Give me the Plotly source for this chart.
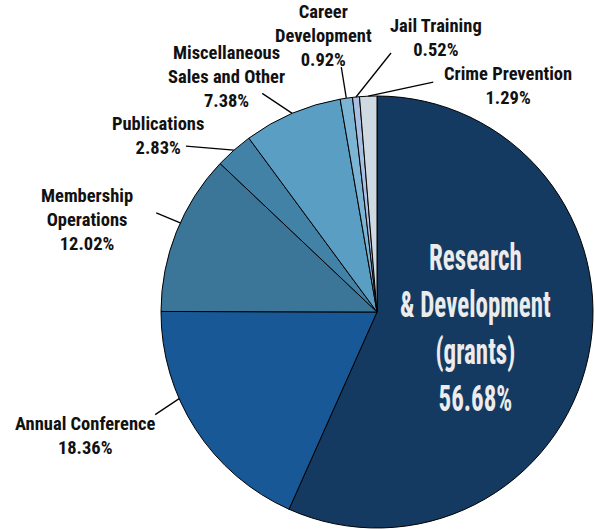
import math
import json
import plotly.graph_objects as go

# ---------------- data ----------------
categories = [
    "Research & Development (grants)",
    "Annual Conference",
    "Membership Operations",
    "Publications",
    "Miscellaneous Sales and Other",
    "Career Development",
    "Jail Training",
    "Crime Prevention",
]
values = [56.68, 18.36, 12.02, 2.83, 7.38, 0.92, 0.52, 1.29]
label_lines = [
    ["Research", "& Development", "(grants)"],
    ["Annual Conference"],
    ["Membership", "Operations"],
    ["Publications"],
    ["Miscellaneous", "Sales and Other"],
    ["Career", "Development"],
    ["Jail Training"],
    ["Crime Prevention"],
]
colors = ["#153a61", "#185896", "#3b7698", "#4282a7", "#5a9ec4",
          "#7cb4d3", "#aabfe2", "#cfd9e1"]

# ---------------- layout / style ----------------
W, H = 595, 529
CX, CY, R = 377, 312, 216
FONT = "Roboto Condensed, Liberation Sans Narrow, Arial Narrow, Roboto, Arial, sans-serif"

# label text placement: (x centre, block centre y, font size, colour)
label_style = [
    (475, 328.5, 25, "#ececec"),
    (85, 436, 18.5, "#111111"),
    (87, 220, 18.5, "#111111"),
    (158, 135.75, 18.5, "#111111"),
    (226, 77.5, 18.5, "#111111"),
    (323, 36, 18.5, "#111111"),
    (436, 38, 18.5, "#111111"),
    (508, 86, 18.5, "#111111"),
]
# leader lines: (anchor fraction within slice, tail offset dx, dy) ; None = no leader
leader_style = [None, (0.64, -24, 16), (0.56, -24, -10), (0.5, -48, -4),
                (0.5, -30, -20), (0.5, -5, -31), (0.5, 35, -44), (0.5, 65, -14)]


def px2paper(x, y):
    return x / W, 1 - y / H


fig = go.Figure()
fig.add_trace(go.Pie(
    labels=categories,
    values=values,
    sort=False,
    direction="clockwise",
    rotation=0,
    textinfo="none",
    hoverinfo="label+percent",
    marker=dict(colors=colors, line=dict(color="#000000", width=1)),
    domain=dict(x=[(CX - R) / W, (CX + R) / W], y=[(H - CY - R) / H, (H - CY + R) / H]),
    showlegend=False,
))

annotations = []
shapes = []
rd_indices = []
total = sum(values)
cum = 0.0
for i, (v, lines) in enumerate(zip(values, label_lines)):
    start = cum / total * 360.0
    end = (cum + v) / total * 360.0
    cum += v
    x0, yc, fs, col = label_style[i]
    text = "<br>".join(lines + [f"{v:.2f}%"])
    px, py = px2paper(x0, yc)
    if i == 0:
        rd_indices.append(len(annotations))
    annotations.append(dict(
        x=px, y=py, xref="paper", yref="paper", text=text, showarrow=False,
        xanchor="center", yanchor="middle", align="center",
        font=dict(family=FONT, size=fs, color=col, weight="bold"),
    ))
    ls = leader_style[i]
    if ls is not None:
        frac, dx, dy = ls
        ang = math.radians(start + frac * (end - start))
        hx = CX + R * math.sin(ang)
        hy = CY - R * math.cos(ang)
        ax_, ay_ = px2paper(hx, hy)
        bx_, by_ = px2paper(hx + dx, hy + dy)
        shapes.append(dict(type="line", xref="paper", yref="paper",
                           x0=bx_, y0=by_, x1=ax_, y1=ay_,
                           line=dict(color="#000000", width=1.3)))

fig.update_layout(
    width=W, height=H,
    margin=dict(l=0, r=0, t=0, b=0),
    paper_bgcolor="#ffffff",
    plot_bgcolor="#ffffff",
    annotations=annotations,
    shapes=shapes,
)

post = """
document.body.style.margin = '0';
document.body.style.overflow = 'hidden';
var gd = document.getElementById('{plot_id}');
var idx = %s;
function stretch(){
  idx.forEach(function(i){
    var g = gd.querySelector('g.annotation[data-index="' + i + '"] text');
    if (g) {
      g.style.transformBox = 'fill-box';
      g.style.transformOrigin = 'center';
      g.style.transform = 'scaleY(1.45)';
    }
  });
}
stretch();
gd.on('plotly_afterplot', stretch);
""" % json.dumps(rd_indices)

fig.write_html("out.html", post_script=post, config={"displayModeBar": False})
